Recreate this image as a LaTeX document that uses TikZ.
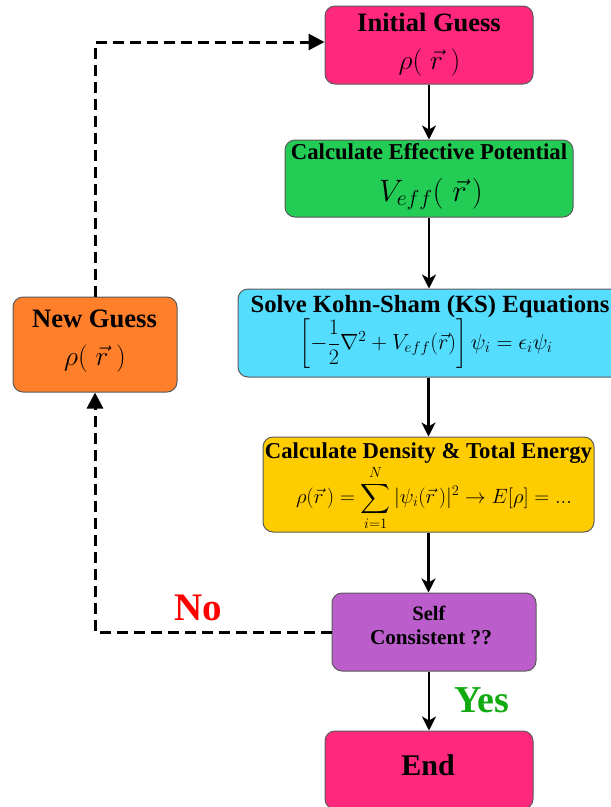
\RequirePackage{fix-cm}
\documentclass[tikz,border=0pt]{standalone}
\usepackage{amsmath}
\usepackage[no-math]{fontspec}
\setmainfont{Liberation Serif}
\usetikzlibrary{arrows.meta,calc}
\definecolor{cPink}{RGB}{255,40,125}
\definecolor{cGreen}{RGB}{34,204,85}
\definecolor{cCyan}{RGB}{85,221,255}
\definecolor{cGold}{RGB}{255,204,0}
\definecolor{cPurple}{RGB}{187,94,204}
\definecolor{cOrange}{RGB}{255,127,42}
\definecolor{cBorder}{RGB}{90,90,90}
\definecolor{cNo}{RGB}{255,0,0}
\definecolor{cYes}{RGB}{17,170,17}
\newcommand{\myfs}[1]{\fontsize{#1}{#1}\selectfont}
\begin{document}
\begin{tikzpicture}[x=1pt,y=-1pt,
  box/.style={draw=cBorder,line width=1pt,rounded corners=10pt,inner sep=0pt},
  txt/.style={inner sep=0pt,anchor=base},
  mth/.style={inner sep=0pt,anchor=center},
  arr/.style={line width=2.5pt,-{Stealth[length=14pt,width=14pt,inset=4pt]}},
  darr/.style={line width=3pt,dash pattern=on 11pt off 6pt,-{Triangle[length=16pt,width=16pt]}}]
\useasboundingbox (0,0) rectangle (611,807);
\clip (0,0) rectangle (611,807);
% boxes
\node[box,fill=cPink,minimum width=208pt,minimum height=78pt] (init) at (429,45) {};
\node[box,fill=cGreen,minimum width=288pt,minimum height=77pt] (eff) at (429,178.5) {};
\node[box,fill=cCyan,minimum width=384pt,minimum height=88pt] (ks) at (430,333) {};
\node[box,fill=cGold,minimum width=331pt,minimum height=95pt] (dens) at (428.5,484.5) {};
\node[box,fill=cPurple,minimum width=204pt,minimum height=78pt] (self) at (434,632) {};
\node[box,fill=cPink,minimum width=208pt,minimum height=78pt] (end) at (429,770) {};
\node[box,fill=cOrange,minimum width=164pt,minimum height=95pt] (ng) at (95,344.5) {};
% texts
\node[txt,font=\myfs{26.5}\bfseries] (initT) at (429,31) {Initial Guess};
\node[mth,font=\myfs{27.5}] (initM) at (429.5,62.5) {$\rho(\;\vec{r}\;)$};
\node[txt,font=\myfs{22.7}\bfseries] (effT) at (429,159) {Calculate Effective Potential};
\node[mth,font=\myfs{31}] (effM) at (431,194) {$V_{eff}(\;\vec{r}\,)$};
\node[txt,font=\myfs{24.7}\bfseries] (ksT) at (430,312) {Solve Kohn-Sham (KS) Equations};
\node[mth,font=\myfs{22}] (ksM) at (426,344) {$\left[-\dfrac{1}{2}\nabla^2+V_{eff}(\vec{r})\right]\psi_i=\epsilon_i\psi_i$};
\node[txt,font=\myfs{22.7}\bfseries] (densT) at (428.5,458) {Calculate Density \& Total Energy};
\node[mth,font=\myfs{20.7}] (densM) at (434,498) {$\rho(\vec{r}\,)=\displaystyle\sum_{i=1}^{N}|\psi_i(\vec{r}\,)|^2\rightarrow E[\rho]=...$};
\node[txt,font=\myfs{20.5}\bfseries] (selfT1) at (429,620) {Self};
\node[txt,font=\myfs{21.2}\bfseries] (selfT2) at (431,644) {Consistent ??};
\node[txt,font=\myfs{30}\bfseries] (endT) at (428,775) {End};
\node[txt,font=\myfs{26.6}\bfseries] (ngT) at (94.5,327) {New Guess};
\node[mth,font=\myfs{27.5}] (ngM) at (95,359) {$\rho(\;\vec{r}\;)$};
\node[txt,font=\myfs{39}\bfseries,text=cNo] (no) at (198.5,620) {No};
\node[txt,font=\myfs{38}\bfseries,text=cYes] (yes) at (481.5,712) {Yes};
% arrows
\draw[arr] (init.south) -- (eff.north);
\draw[arr] (eff.south) -- (eff.south |- ks.north);
\draw[arr] (ks.south -| dens.north) -- (dens.north);
\draw[arr] (dens.south) -- (dens.south |- self.north);
\draw[arr] (self.south -| end.north) -- (end.north);
\draw[darr] (self.west) -- (self.west -| ng.south) -- (ng.south);
\draw[darr] (ng.north) |- ($(init.west)+(0,-3)$);
\end{tikzpicture}
\end{document}
